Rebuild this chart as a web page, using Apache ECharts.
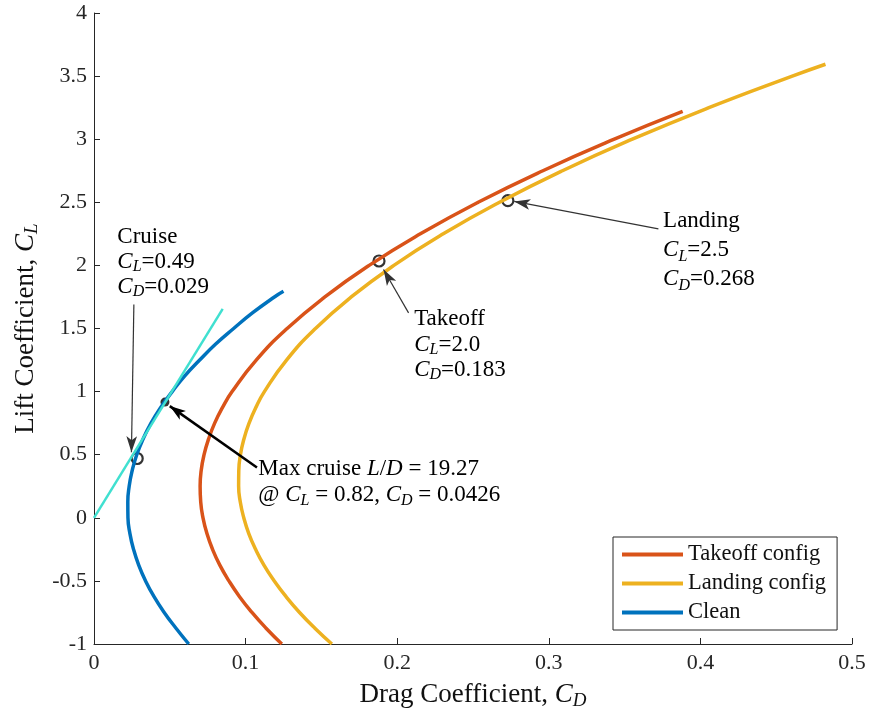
<!DOCTYPE html>
<html>
<head>
<meta charset="utf-8" />
<title>Drag polar</title>
<style type="text/css">
*{margin:0;padding:0;}
#chart{width:869px;height:715px;background:#fff;}
</style>
</head>
<body>
<div id="chart"></div>
<script src="https://cdn.jsdelivr.net/npm/echarts@6/dist/echarts.min.js"></script>
<script type="text/javascript">
// [CD, CL] pairs (smoothed by eye)
var takeoffPolar = [[0.1239,-1.0],[0.1135,-0.875],[0.1042,-0.75],[0.0960,-0.625],[0.0890,-0.5],[0.0830,-0.375],[0.0782,-0.25],
	[0.0745,-0.125],[0.0719,0],[0.0704,0.125],[0.0700,0.25],[0.0707,0.375],[0.0726,0.5],[0.0756,0.625],[0.0796,0.75],
	[0.0848,0.875],[0.0911,1.0],[0.1070,1.25],[0.1274,1.5],[0.1523,1.75],[0.1815,2.0],[0.2153,2.25],[0.2534,2.5],
	[0.2961,2.75],[0.3432,3.0],[0.3883,3.22]];
var landingPolar = [[0.1569,-1.0],[0.1457,-0.875],[0.1356,-0.75],[0.1267,-0.625],[0.1189,-0.5],[0.1121,-0.375],[0.1066,-0.25],
	[0.1021,-0.125],[0.0988,0],[0.0965,0.125],[0.0954,0.25],[0.0955,0.375],[0.0966,0.5],[0.0989,0.625],[0.1023,0.75],
	[0.1068,0.875],[0.1124,1.0],[0.1270,1.25],[0.1461,1.5],[0.1697,1.75],[0.1978,2.0],[0.2304,2.25],[0.2675,2.5],
	[0.3090,2.75],[0.3551,3.0],[0.4056,3.25],[0.4606,3.5],[0.4825,3.594]];
var cleanPolar = [[0.0625,-1.0],[0.0541,-0.875],[0.0463,-0.75],[0.0396,-0.625],[0.0340,-0.5],[0.0295,-0.375],[0.0261,-0.25],
	[0.0237,-0.125],[0.0224,0],[0.0223,0.125],[0.0232,0.25],[0.0252,0.375],[0.0282,0.5],[0.0324,0.625],[0.0376,0.75],
	[0.0440,0.875],[0.0516,1.0],[0.0599,1.125],[0.0697,1.25],[0.0801,1.375],[0.0921,1.5],[0.1047,1.625],[0.1190,1.75],
	[0.1250,1.795]];
var tangentLine = [[0, 0], [0.0849, 1.656]];
var maxLDPoint = [[0.0468, 0.917]];
var designPoints = [[0.0285, 0.47], [0.188, 2.035], [0.273, 2.513]];

// annotation arrows: [from, to] in data units
var arrowCruise = [[0.0263, 1.69], [0.0247, 0.52]];
var arrowMaxLD = [[0.1075, 0.398], [0.0500, 0.885]];
var arrowTakeoff = [[0.2075, 1.624], [0.191, 1.967]];
var arrowLanding = [[0.3723, 2.289], [0.2772, 2.507]];

var FONT = "'Liberation Serif', 'Times New Roman', serif";
var INK = '#262626';

function richFor(lh, size) {
	size = size || 23;
	return {
		n: {fontFamily: FONT, fontSize: size, color: '#111', lineHeight: lh},
		i: {fontFamily: FONT, fontSize: size, fontStyle: 'italic', color: '#111', lineHeight: lh},
		s: {fontFamily: FONT, fontSize: Math.round(size * 0.7), fontStyle: 'italic', color: '#111', lineHeight: 14, verticalAlign: 'bottom'}
	};
}

var notes = [
	{at: [0.0154, 2.323], lh: 25, text: '{n|Cruise}\n{i|C}{s|L}{n|=0.49}\n{i|C}{s|D}{n|=0.029}'},
	{at: [0.1084, 0.487], lh: 26, text: '{n|Max cruise }{i|L}{n|/}{i|D}{n| = 19.27}\n{n|@ }{i|C}{s|L}{n| = 0.82, }{i|C}{s|D}{n| = 0.0426}'},
	{at: [0.2112, 1.674], lh: 25.5, text: '{n|Takeoff}\n{i|C}{s|L}{n|=2.0}\n{i|C}{s|D}{n|=0.183}'},
	{at: [0.3754, 2.465], lh: 29, text: '{n|Landing}\n{i|C}{s|L}{n|=2.5}\n{i|C}{s|D}{n|=0.268}'}
];

function arrow(pts, w, color, size) {
	return [
		{coord: pts[0], lineStyle: {width: w, color: color, type: 'solid'}, symbolSize: size},
		{coord: pts[1]}
	];
}

var chart = echarts.init(document.getElementById('chart'));
var option = {
	animation: false,
	backgroundColor: '#fff',
	grid: {left: 94, right: 17, top: 13, bottom: 70},
	legend: {
		left: 613, top: 537,
		orient: 'vertical',
		data: ['Takeoff config', 'Landing config', 'Clean'],
		icon: 'rect',
		itemWidth: 61, itemHeight: 4,
		itemGap: 6,
		padding: [6, 11, 6, 9],
		borderColor: INK, borderWidth: 1,
		backgroundColor: '#fff',
		textStyle: {fontFamily: FONT, fontSize: 22.5, color: '#111', lineHeight: 22}
	},
	xAxis: {
		type: 'value', min: 0, max: 0.5, interval: 0.1,
		name: '{n|Drag Coefficient, }{i|C}{s|D}',
		nameLocation: 'middle', nameGap: 36,
		nameTextStyle: {rich: richFor(30, 27)},
		axisLine: {show: true, onZero: false, lineStyle: {color: INK, width: 1}},
		axisTick: {show: true, inside: true, length: 6, lineStyle: {color: INK}},
		axisLabel: {fontFamily: FONT, fontSize: 22, color: INK, margin: 8},
		splitLine: {show: false}
	},
	yAxis: {
		type: 'value', min: -1, max: 4, interval: 0.5,
		name: '{n|Lift Coefficient, }{i|C}{s|L}',
		nameLocation: 'middle', nameGap: 52,
		nameTextStyle: {rich: richFor(30, 27)},
		axisLine: {show: true, onZero: false, lineStyle: {color: INK, width: 1}},
		axisTick: {show: true, inside: true, length: 6, lineStyle: {color: INK}},
		axisLabel: {fontFamily: FONT, fontSize: 22, color: INK, margin: 7},
		splitLine: {show: false}
	},
	series: [
		{name: 'Takeoff config', type: 'line', data: takeoffPolar, smooth: 0.5, showSymbol: false,
			lineStyle: {color: '#D95319', width: 3.5}, itemStyle: {color: '#D95319'}},
		{name: 'Landing config', type: 'line', data: landingPolar, smooth: 0.5, showSymbol: false,
			lineStyle: {color: '#EDB120', width: 3.5}, itemStyle: {color: '#EDB120'}},
		{name: 'Clean', type: 'line', data: cleanPolar, smooth: 0.5, showSymbol: false,
			lineStyle: {color: '#0072BD', width: 3.5}, itemStyle: {color: '#0072BD'}},
		{name: 'tangent', type: 'line', data: tangentLine, showSymbol: false,
			lineStyle: {color: '#40E0D0', width: 2.5}},
		{name: 'design', type: 'scatter', data: designPoints, symbol: 'circle', symbolSize: 11,
			itemStyle: {color: 'rgba(0,0,0,0)', borderColor: '#000', borderWidth: 2.2}},
		{name: 'maxLD', type: 'scatter', data: maxLDPoint, symbol: 'circle', symbolSize: 9,
			itemStyle: {color: '#000'},
			markLine: {
				silent: true, animation: false,
				symbol: ['none', 'arrow'],
				label: {show: false},
				data: [
					arrow(arrowCruise, 1.2, '#333', [9, 13]),
					arrow(arrowMaxLD, 2.5, '#000', [13, 15]),
					arrow(arrowTakeoff, 1.2, '#333', [12, 16]),
					arrow(arrowLanding, 1.2, '#333', [12, 16])
				]
			}}
	]
};
chart.setOption(option);

// text notes anchored at data coordinates
var graphic = notes.map(function (nt) {
	var p = chart.convertToPixel({xAxisIndex: 0, yAxisIndex: 0}, nt.at);
	return {
		type: 'text', x: p[0], y: p[1], z: 100,
		style: {text: nt.text, rich: richFor(nt.lh), verticalAlign: 'top', align: 'left'}
	};
});
chart.setOption({graphic: graphic});
</script>
</body>
</html>
